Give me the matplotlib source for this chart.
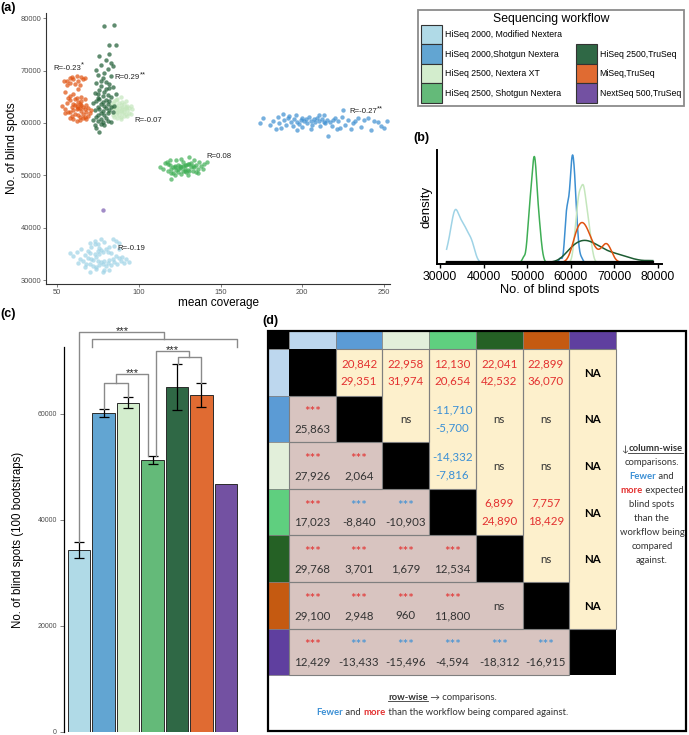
import numpy as np
import matplotlib
matplotlib.use('Agg')
import matplotlib.pyplot as plt
from matplotlib.patches import Rectangle, Patch

plt.rcParams['font.family'] = ['Liberation Sans', 'DejaVu Sans']
TABLE_FONT = ['Lato', 'DejaVu Sans']

W, H = 689, 735

# ------------------------------------------------------------------
# workflows & colours
# ------------------------------------------------------------------
WORKFLOWS = ['HiSeq 2000, Modified Nextera', 'HiSeq 2000,Shotgun Nextera',
             'HiSeq 2500, Nextera XT', 'HiSeq 2500, Shotgun Nextera',
             'HiSeq 2500,TruSeq', 'MiSeq,TruSeq', 'NextSeq 500,TruSeq']
POINT_COLORS = ['#9fd3e6', '#3d8fd1', '#c4e6bc', '#3fae55', '#1d5c33', '#e0520f', '#7a5bb0']
FILL_COLORS = ['#b0dae7', '#62a5d2', '#d3edcd', '#64ba79', '#2f6845', '#e06b32', '#7351a2']
HEADER_COLORS = ['#bdd7ee', '#5b9bd5', '#e2efda', '#5fcf7f', '#256125', '#c55a11', '#5f3f9f']
MORE_COL = '#e3302f'
FEWER_COL = '#3a8fd5'
DARK = '#333333'

# ------------------------------------------------------------------
# (a) mean coverage vs blind spots (blind spots in thousands)
# ------------------------------------------------------------------
MOD_NEXTERA = [(58, 35.1), (60, 34.6), (62, 35.3), (63, 33.2), (64, 34.0), (65, 36.0), (66, 33.6),
               (67, 34.8), (67, 32.4), (68, 33.1), (69, 34.3), (69, 35.6), (70, 33.0), (70, 31.6),
               (71, 34.0), (71, 36.4), (72, 32.7), (72, 33.8), (73, 35.0), (73, 37.5), (74, 32.5),
               (74, 34.4), (74, 32.2), (75, 36.9), (75, 33.7), (76, 34.9), (76, 32.9), (77, 33.5),
               (77, 35.8), (78, 33.0), (78, 35.3), (78, 31.5), (79, 37.2), (79, 33.6), (80, 36.0),
               (80, 32.6), (81, 35.4), (81, 33.3), (82, 36.3), (82, 33.9), (83, 32.9), (83, 35.1),
               (84, 37.9), (84, 34.0), (85, 33.4), (85, 36.5), (86, 34.6), (87, 33.1), (88, 34.2),
               (88, 35.9), (89, 33.6), (90, 34.4), (91, 33.2), (92, 34.0), (94, 33.5), (76, 36.2),
               (79, 31.9), (73, 36.8), (82, 32.0), (70, 35.1), (86, 37.4), (75, 35.5), (88, 37.0),
               (77, 37.8), (70, 37.1)]
SHOTGUN_2000 = [(174, 60.0), (176, 60.9), (180, 59.6), (182, 60.3), (184, 58.8), (185, 61.2), (186, 60.0),
                (187, 59.1), (188, 61.8), (189, 60.5), (190, 59.6), (191, 60.9), (192, 61.3), (193, 60.1),
                (194, 59.4), (195, 60.7), (196, 61.5), (197, 60.2), (198, 59.8), (199, 60.6), (200, 61.0),
                (200, 59.2), (201, 60.3), (202, 60.8), (203, 59.9), (204, 61.2), (205, 60.4), (206, 59.6),
                (207, 60.7), (208, 60.1), (209, 61.0), (210, 60.4), (211, 59.5), (212, 60.8), (213, 60.2),
                (214, 59.9), (215, 60.6), (216, 57.6), (217, 60.1), (218, 59.4), (219, 60.5), (220, 60.9),
                (221, 58.9), (222, 60.3), (224, 61.1), (225, 62.4), (226, 59.7), (228, 60.6), (231, 60.0),
                (230, 58.8), (232, 60.3), (234, 60.9), (236, 59.2), (238, 60.5), (240, 60.9), (242, 58.7),
                (244, 60.3), (246, 60.2), (248, 59.4), (250, 59.0), (252, 60.4), (210, 61.5), (205, 58.9),
                (197, 58.7), (223, 59.1), (213, 61.6)]
NEXTERA_XT = [(82, 62.0), (83, 63.5), (84, 61.6), (84, 62.8), (85, 64.1), (85, 61.1), (86, 62.4),
              (86, 63.5), (87, 60.9), (87, 62.0), (87, 64.6), (88, 62.8), (88, 61.6), (88, 63.9),
              (89, 62.3), (89, 60.7), (89, 64.9), (90, 63.0), (90, 61.9), (90, 62.6), (91, 63.6),
              (91, 61.3), (91, 62.1), (92, 62.9), (92, 64.2), (92, 61.7), (93, 62.4), (93, 63.3),
              (94, 61.9), (94, 62.9), (95, 63.3), (96, 62.6), (86, 61.8), (88, 62.3), (90, 64.0),
              (89, 61.1), (87, 63.0), (91, 62.7), (93, 61.4), (85, 62.9), (95, 61.8), (84, 63.9),
              (89, 63.5), (92, 63.1), (86, 64.3)]
SHOTGUN_2500 = [(113, 51.5), (115, 51.2), (116, 52.3), (117, 52.6), (118, 50.8), (119, 51.9), (119, 52.9),
                (120, 50.4), (120, 51.3), (121, 50.4), (121, 51.6), (122, 51.7), (122, 50.0), (123, 52.9),
                (123, 51.1), (124, 51.9), (124, 50.6), (125, 51.8), (125, 51.4), (126, 50.2), (126, 53.1),
                (127, 51.8), (127, 50.9), (128, 51.9), (128, 51.3), (129, 50.6), (129, 51.9), (130, 52.2),
                (130, 51.1), (131, 50.8), (131, 52.1), (132, 51.6), (132, 52.3), (133, 50.9), (133, 51.7),
                (134, 51.5), (135, 52.0), (135, 50.7), (136, 51.3), (137, 52.6), (138, 51.7), (139, 51.2),
                (140, 52.1), (142, 52.5), (126, 51.6), (124, 51.3), (130, 50.0), (128, 50.9), (134, 52.9),
                (122, 51.5), (118, 52.2), (136, 50.4), (127, 52.5), (120, 49.2), (131, 53.5)]
TRUSEQ_2500 = [(79, 78.5), (85, 78.8), (82, 74.9), (86, 74.8), (76, 72.7), (82, 73.2), (80, 72.0),
               (83, 71.5), (77, 71.0), (81, 70.3), (84, 70.8), (79, 69.6), (75, 69.2), (83, 69.0),
               (78, 68.5), (74, 70.1),
               (74, 67.6), (77, 67.0), (80, 67.8), (82, 66.6), (76, 66.2), (79, 66.0), (84, 66.9),
               (73, 65.8), (81, 65.4), (78, 65.1), (75, 64.7), (83, 64.9), (86, 65.6), (77, 68.1),
               (80, 66.4), (75, 65.5), (82, 67.4),
               (72, 63.8), (73, 62.5), (74, 64.2), (75, 63.0), (75, 61.6), (76, 62.7), (76, 64.5),
               (77, 63.6), (77, 61.9), (78, 62.3), (78, 64.0), (79, 63.2), (79, 61.5), (80, 62.8),
               (80, 64.3), (81, 63.6), (81, 61.9), (82, 62.4), (82, 64.1), (83, 63.0), (84, 62.1),
               (85, 63.3),
               (74, 61.2), (77, 60.8), (80, 60.9), (72, 60.6), (75, 60.3), (77, 59.8), (79, 59.6),
               (81, 60.4), (74, 59.1), (76, 58.3), (83, 60.1), (78, 60.2), (73, 59.7)]
MISEQ_TRUSEQ = [(54, 68.1), (56, 68.0), (58, 68.6), (60, 68.3), (62, 68.9), (63, 68.0), (65, 68.7),
                (66, 68.4), (58, 67.6), (61, 67.4), (64, 67.2), (56, 67.3), (67, 68.6), (59, 68.8),
                (55, 65.9), (60, 65.5), (63, 66.4), (58, 65.1), (65, 64.9),
                (53, 63.2), (55, 62.6), (56, 63.8), (57, 62.1), (58, 64.3), (59, 63.0), (60, 62.4),
                (60, 63.7), (61, 64.5), (61, 61.8), (62, 63.2), (62, 62.6), (63, 64.0), (63, 61.5),
                (64, 62.9), (64, 63.6), (65, 62.2), (65, 64.2), (66, 63.1), (66, 61.7), (67, 62.7),
                (67, 64.6), (68, 63.4), (68, 62.0), (69, 62.9), (70, 61.9), (71, 62.4), (59, 61.3),
                (57, 64.8), (62, 64.8), (64, 61.2), (66, 60.9), (60, 60.8), (58, 62.0), (63, 62.9),
                (61, 63.4), (65, 63.5), (55, 61.9), (69, 61.4), (67, 61.2),
                (62, 60.4), (64, 60.6), (58, 60.9), (68, 60.8)]
NEXTSEQ_TRUSEQ = [(78, 43.4)]
ALL_POINTS = [MOD_NEXTERA, SHOTGUN_2000, NEXTERA_XT, SHOTGUN_2500, TRUSEQ_2500, MISEQ_TRUSEQ, NEXTSEQ_TRUSEQ]

R_LABELS = ['R=-0.19', 'R=-0.27', 'R=-0.07', 'R=0.08', 'R=0.29', 'R=-0.23']
R_STARS = ['', '**', '', '', '**', '*']
R_POS = [(87, 36.1), (228.7, 62.1), (97.6, 60.5), (141.3, 53.5), (85.4, 68.6), (47.8, 70.4)]

# ------------------------------------------------------------------
# (c) bootstrap means with ranges
# ------------------------------------------------------------------
BAR_MEANS = [34340, 60130, 62140, 51320, 65030, 63580, 46790]
BAR_LOW = [32750, 59370, 61190, 50570, 60750, 61260]
BAR_HIGH = [35900, 60940, 63200, 52130, 69380, 65900]

# ------------------------------------------------------------------
# (d) pairwise comparison table
# ------------------------------------------------------------------
UPPER_DIFFS = [(1, 2, 20842, 29351, 'more'), (1, 3, 22958, 31974, 'more'), (1, 4, 12130, 20654, 'more'),
               (1, 5, 22041, 42532, 'more'), (1, 6, 22899, 36070, 'more'),
               (2, 4, -11710, -5700, 'fewer'), (3, 4, -14332, -7816, 'fewer'),
               (4, 5, 6899, 24890, 'more'), (4, 6, 7757, 18429, 'more')]
UPPER_NS = [(2, 3), (2, 5), (2, 6), (3, 5), (3, 6), (5, 6)]
NA_ROWS = [1, 2, 3, 4, 5, 6]
LOWER_DIFFS = [(2, 1, 25863, 'more'),
               (3, 1, 27926, 'more'), (3, 2, 2064, 'more'),
               (4, 1, 17023, 'more'), (4, 2, -8840, 'fewer'), (4, 3, -10903, 'fewer'),
               (5, 1, 29768, 'more'), (5, 2, 3701, 'more'), (5, 3, 1679, 'more'), (5, 4, 12534, 'more'),
               (6, 1, 29100, 'more'), (6, 2, 2948, 'more'), (6, 3, 960, 'more'), (6, 4, 11800, 'more'),
               (7, 1, 12429, 'more'), (7, 2, -13433, 'fewer'), (7, 3, -15496, 'fewer'),
               (7, 4, -4594, 'fewer'), (7, 5, -18312, 'fewer'), (7, 6, -16915, 'fewer')]
LOWER_NS = [(6, 5)]
KIND_COL = {'more': MORE_COL, 'fewer': FEWER_COL}


def px_axes(fig, x0, y0, x1, y1):
    return fig.add_axes([x0 / W, 1 - y1 / H, (x1 - x0) / W, (y1 - y0) / H])


def bw_nrd0(x):
    sd = np.std(x, ddof=1)
    iqr = np.subtract(*np.percentile(x, [75, 25]))
    return 0.9 * min(sd, iqr / 1.34) * len(x) ** -0.2


fig = plt.figure(figsize=(W / 100, H / 100), dpi=100)

# ==================================================================
# (a) scatter
# ==================================================================
ax = px_axes(fig, 46, 13, 390, 284)
for pts, col in zip(ALL_POINTS, POINT_COLORS):
    arr = np.array(pts, dtype=float)
    ax.scatter(arr[:, 0], arr[:, 1] * 1000, s=10, color=col, alpha=0.7, lw=0)
for lab, star, (x, y) in zip(R_LABELS, R_STARS, R_POS):
    t = ax.text(x, y * 1000, lab, fontsize=5.6, ha='left', va='center', color='#222222')
    if star:
        ax.annotate(star, xy=(1, 0.95), xycoords=t, fontsize=5.6, ha='left', va='center', color='#222222')
ax.set_xlim(43.3, 253.6)
ax.set_ylim(29240, 81000)
ax.set_xticks([50, 100, 150, 200, 250])
ax.set_yticks(range(30000, 80001, 10000))
ax.tick_params(labelsize=5.4, labelcolor='#4d4d4d', color='#4d4d4d', length=2, width=0.5, pad=1.5)
for s in ['top', 'right']:
    ax.spines[s].set_visible(False)
for s in ['left', 'bottom']:
    ax.spines[s].set_color('#333333')
    ax.spines[s].set_linewidth(0.8)
ax.set_xlabel('mean coverage', fontsize=8.5, labelpad=1)
ax.set_ylabel('No. of blind spots', fontsize=8.6, labelpad=2)

# ==================================================================
# (b) density of blind spots
# ==================================================================
axb = px_axes(fig, 437, 150, 662, 264)
all_y = np.concatenate([np.array(p, dtype=float)[:, 1] for p in ALL_POINTS[:6]]) * 1000
grid = np.linspace(all_y.min(), all_y.max(), 600)
peak = 0
for pts, col in zip(ALL_POINTS[:6], POINT_COLORS[:6]):
    y = np.array(pts, dtype=float)[:, 1] * 1000
    bw = bw_nrd0(y)
    dens = np.exp(-0.5 * ((grid[:, None] - y[None, :]) / bw) ** 2).mean(axis=1) / (bw * np.sqrt(2 * np.pi))
    peak = max(peak, dens.max())
    axb.plot(grid, dens, color=col, lw=1.1)
axb.plot([grid[0], grid[-1]], [0, 0], color='black', lw=1.6)
axb.set_ylim(-0.015 * peak, 1.046 * peak)
axb.set_xlim(29300, 80900)
axb.set_yticks([])
axb.set_xticks(range(30000, 80001, 10000))
axb.tick_params(axis='x', labelsize=8.8, length=3, width=1, pad=2)
for s in ['top', 'right']:
    axb.spines[s].set_visible(False)
for s in ['left', 'bottom']:
    axb.spines[s].set_linewidth(1.4)
axb.set_xlabel('No. of blind spots', fontsize=9.3, labelpad=1)
axb.set_ylabel('density', fontsize=9.5, labelpad=3)

# ==================================================================
# (c) bars with significance brackets
# ==================================================================
axc = px_axes(fig, 64, 347, 238, 732)
xs = np.arange(1, 8)
axc.bar(xs, BAR_MEANS, width=0.92, color=FILL_COLORS, edgecolor='#2b2b2b', lw=0.7)
m = np.array(BAR_MEANS[:6])
axc.errorbar(xs[:6], m, yerr=[m - np.array(BAR_LOW), np.array(BAR_HIGH) - m],
             fmt='none', ecolor='black', elinewidth=0.9, capsize=3.8, capthick=0.9)


def bracket(x1, x2, y, y1_bot, y2_bot, label=None):
    axc.plot([x1, x1, x2, x2], [y1_bot, y, y, y2_bot], color='#8a8a8a', lw=1.0, clip_on=False)
    if label:
        axc.text((x1 + x2) / 2, y - 700, label, ha='center', va='bottom', fontsize=8, color='#222222')


bracket(1.53, 7.45, 74150, 72640, 72640)
bracket(1, 4.49, 75470, BAR_HIGH[0], 74150, '***')
bracket(2, 3, 65900, BAR_HIGH[1], BAR_HIGH[2])
bracket(2.5, 3.82, 67550, 65900, BAR_HIGH[3], '***')
bracket(5.05, 5.97, 70700, BAR_HIGH[4], BAR_HIGH[5])
bracket(4.15, 5.49, 71890, BAR_HIGH[3], 70700, '***')

axc.set_xlim(0.376, 7.5)
axc.set_ylim(0, 72640)
axc.set_xticks([])
axc.set_yticks([0, 20000, 40000, 60000])
axc.tick_params(axis='y', labelsize=5.0, labelcolor='#4d4d4d', color='#4d4d4d', length=3, width=0.5, pad=2)
for s in ['top', 'right', 'bottom']:
    axc.spines[s].set_visible(False)
axc.spines['left'].set_linewidth(0.9)
axc.set_ylabel('No. of blind spots (100 bootstraps)', fontsize=8.3, labelpad=10)

# ==================================================================
# (d) comparison table
# ==================================================================
axd = px_axes(fig, 268, 331, 686, 731)
axd.set_xlim(0, 8.95)
axd.set_ylim(8.59, 0)
axd.axis('off')
HX, HY = 0.45, 0.39
UPPER_BG, LOWER_BG, GRID = '#fdf0cc', '#d8c4c0', '#7f7f7f'


def cx(j):
    return HX + (j - 1)


def cy(i):
    return HY + (i - 1)


axd.add_patch(Rectangle((0, 0), HX, HY, fc='black', ec=GRID, lw=0.5))
for k, col in enumerate(HEADER_COLORS, start=1):
    axd.add_patch(Rectangle((cx(k), 0), 1, HY, fc=col, ec=GRID, lw=0.5))
    axd.add_patch(Rectangle((0, cy(k)), HX, 1, fc=col, ec=GRID, lw=0.5))
for i in range(1, 8):
    for j in range(1, 8):
        bg = 'black' if i == j else (UPPER_BG if i < j else LOWER_BG)
        axd.add_patch(Rectangle((cx(j), cy(i)), 1, 1, fc=bg, ec='none'))
for i in range(2, 8):
    axd.add_patch(Rectangle((cx(1), cy(i)), i - 1, 1, fill=False, ec=GRID, lw=0.8))
for j in range(2, 8):
    axd.add_patch(Rectangle((cx(j), cy(1)), 1, j - 1, fill=False, ec=GRID, lw=0.8))
axd.add_patch(Rectangle((0, 0), 8.95, 8.59, fill=False, ec='black', lw=1.6, clip_on=False))

NUM_FS = 8.3
for i, j, a, b, kind in UPPER_DIFFS:
    for v, dy in ((a, 0.31), (b, 0.69)):
        axd.text(cx(j) + 0.5, cy(i) + dy, f'{v:,}', ha='center', va='center', fontsize=NUM_FS,
                 color=KIND_COL[kind], family=TABLE_FONT)
for i, j in UPPER_NS:
    axd.text(cx(j) + 0.5, cy(i) + 0.52, 'ns', ha='center', va='center', fontsize=NUM_FS, color=DARK,
             family=TABLE_FONT)
for i in NA_ROWS:
    axd.text(cx(7) + 0.5, cy(i) + 0.52, 'NA', ha='center', va='center', fontsize=NUM_FS, color='black',
             fontweight='bold', family=TABLE_FONT)
for i, j, v, kind in LOWER_DIFFS:
    axd.text(cx(j) + 0.5, cy(i) + 0.36, '***', ha='center', va='center', fontsize=9.5, color=KIND_COL[kind],
             family=TABLE_FONT)
    axd.text(cx(j) + 0.5, cy(i) + 0.72, f'{v:,}', ha='center', va='center', fontsize=NUM_FS, color=DARK,
             family=TABLE_FONT)
for i, j in LOWER_NS:
    axd.text(cx(j) + 0.5, cy(i) + 0.52, 'ns', ha='center', va='center', fontsize=NUM_FS, color=DARK,
             family=TABLE_FONT)

renderer = fig.canvas.get_renderer()


def rich_line(ax, xc, y, parts, size):
    texts = []
    for s, col, bold, ul in parts:
        texts.append(ax.text(0, y, s, color=col, fontsize=size, fontweight='bold' if bold else 'normal',
                             family=TABLE_FONT, ha='left', va='baseline'))
    widths = [t.get_window_extent(renderer).width for t in texts]
    xd, yd = ax.transData.transform((xc, y))
    x = xd - sum(widths) / 2
    inv = ax.transData.inverted()
    for t, w, p in zip(texts, widths, parts):
        t.set_position(inv.transform((x, yd)))
        if p[3]:
            a = inv.transform((x, yd - 1.6))
            b = inv.transform((x + w, yd - 1.6))
            ax.plot([a[0], b[0]], [a[1], b[1]], color=p[1], lw=0.6)
        x += w


SIDE_FS = 6.8
side_lines = [
    [('↓', DARK, False, False), ('column-wise', DARK, True, True)],
    [('comparisons.', DARK, False, False)],
    [('Fewer', FEWER_COL, True, False), (' and', DARK, False, False)],
    [('more', MORE_COL, True, False), (' expected', DARK, False, False)],
    [('blind spots', DARK, False, False)],
    [('than the', DARK, False, False)],
    [('workflow being', DARK, False, False)],
    [('compared', DARK, False, False)],
    [('against.', DARK, False, False)],
]
for k, parts in enumerate(side_lines):
    rich_line(axd, 8.22, 2.58 + 0.30 * k, parts, SIDE_FS)

rich_line(axd, 3.73, 7.92, [('row-wise', DARK, True, True), (' → comparisons.', DARK, False, False)], SIDE_FS)
rich_line(axd, 3.73, 8.24, [('Fewer', FEWER_COL, True, False), (' and ', DARK, False, False),
                            ('more', MORE_COL, True, False),
                            (' than the workflow being compared against.', DARK, False, False)], SIDE_FS)

# ==================================================================
# legend
# ==================================================================
handles = [Patch(facecolor=c, edgecolor='#333333', lw=0.8, label=l) for c, l in zip(FILL_COLORS, WORKFLOWS)]
blank = Patch(visible=False, label='')
leg = fig.legend(handles=handles[:4] + [blank] + handles[4:], ncol=2, loc='upper right',
                 bbox_to_anchor=(688 / W, 1 - 6 / H), title='Sequencing workflow', fontsize=6.3,
                 title_fontsize=8.8, handlelength=2.4, handleheight=3.05, handletextpad=0.35,
                 labelspacing=0.0, columnspacing=1.6, borderpad=0.3, frameon=True, fancybox=False,
                 edgecolor='#6e6e6e')
leg.get_frame().set_linewidth(1.3)

# panel labels
for lab, x, y in [('(a)', 0, 8), ('(b)', 413, 138), ('(c)', 0, 314), ('(d)', 262, 321)]:
    fig.text(x / W, 1 - y / H, lab, fontsize=9, fontweight='bold', ha='left', va='center')

fig.savefig('out.png', dpi=100)
